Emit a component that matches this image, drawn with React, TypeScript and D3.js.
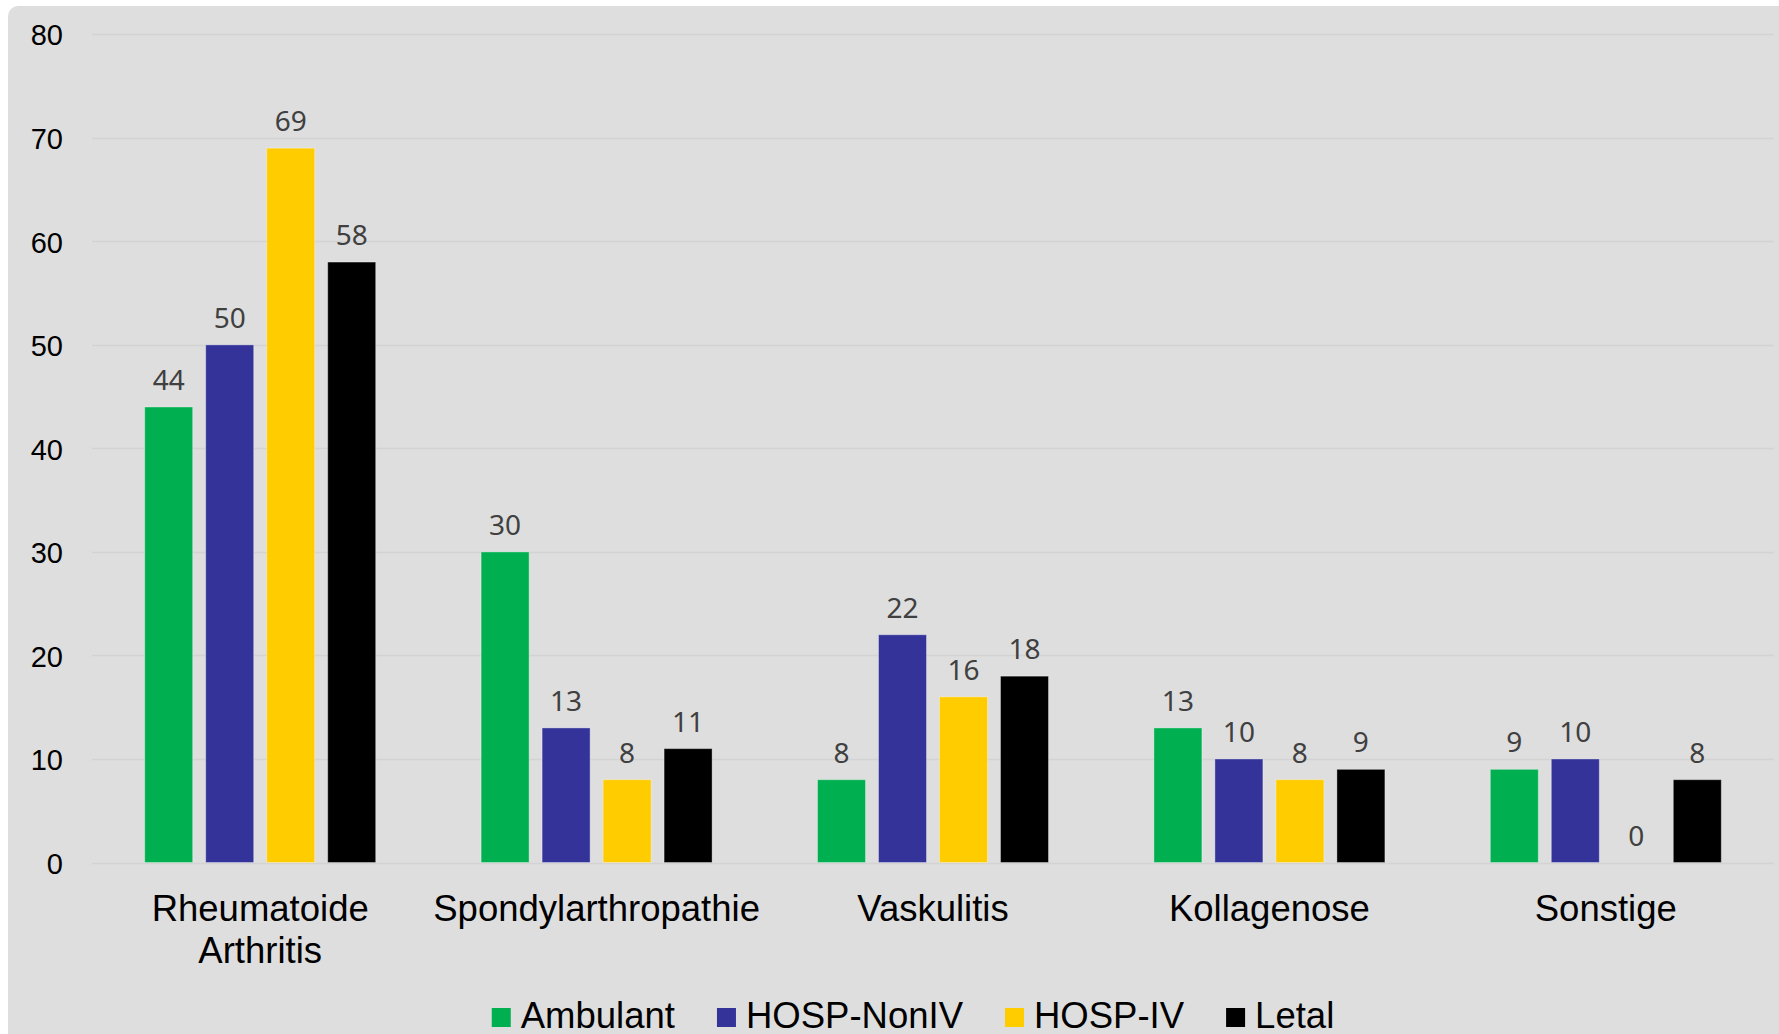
import React, { useEffect, useRef } from "react";
import * as d3 from "d3";

const categories: string[][] = [
  ["Rheumatoide", "Arthritis"],
  ["Spondylarthropathie"],
  ["Vaskulitis"],
  ["Kollagenose"],
  ["Sonstige"],
];
const seriesNames = ["Ambulant", "HOSP-NonIV", "HOSP-IV", "Letal"];
const ambulant = [44, 30, 8, 13, 9];
const hospNonIV = [50, 13, 22, 10, 10];
const hospIV = [69, 8, 16, 8, 0];
const letal = [58, 11, 18, 9, 8];
const seriesColors = ["#00B050", "#333399", "#FFCC00", "#000000"];
const yTicks = [0, 10, 20, 30, 40, 50, 60, 70, 80];

const W = 1779;
const H = 1034;

export default function App() {
  const ref = useRef<SVGSVGElement | null>(null);

  useEffect(() => {
    document.body.style.margin = "0";
    const svg = d3.select(ref.current);
    svg.selectAll("*").remove();

    const allSeries = [ambulant, hospNonIV, hospIV, letal];
    const catKeys = categories.map((c) => c.join(" "));

    const x0 = d3.scaleBand<string>().domain(catKeys).range([92, 1774]).padding(0);
    const x1 = d3
      .scaleBand<string>()
      .domain(seriesNames)
      .range([0, x0.bandwidth()])
      .paddingInner(0.213)
      .paddingOuter(0.864);
    const y = d3.scaleLinear().domain([0, 80]).range([862.5, 34.3]);

    // background
    svg
      .append("rect")
      .attr("x", 8)
      .attr("y", 6)
      .attr("width", W + 20)
      .attr("height", H + 20)
      .attr("rx", 10)
      .attr("fill", "#dedede");

    // gridlines
    svg
      .append("g")
      .selectAll("line")
      .data(yTicks)
      .join("line")
      .attr("x1", 92)
      .attr("x2", 1774)
      .attr("y1", (d) => Math.round(y(d)) + 0.5)
      .attr("y2", (d) => Math.round(y(d)) + 0.5)
      .attr("stroke", "#d3d3d3")
      .attr("stroke-width", 1.5);

    // y tick labels
    svg
      .append("g")
      .selectAll("text")
      .data(yTicks)
      .join("text")
      .attr("x", 63)
      .attr("y", (d) => y(d) + 1)
      .attr("dy", "0.35em")
      .attr("text-anchor", "end")
      .attr("font-family", "'Liberation Sans', Arial, sans-serif")
      .attr("font-size", 29)
      .attr("fill", "#000")
      .text((d) => String(d));

    // bars
    const groups = svg
      .append("g")
      .selectAll("g")
      .data(catKeys)
      .join("g")
      .attr("transform", (d) => `translate(${x0(d)},0)`);

    groups.each(function (cat, ci) {
      const g = d3.select(this);
      const rows = seriesNames.map((s, si) => ({ s, si, v: allSeries[si][ci] }));
      g.selectAll("rect")
        .data(rows)
        .join("rect")
        .attr("x", (d) => x1(d.s)!)
        .attr("y", (d) => y(d.v))
        .attr("width", x1.bandwidth())
        .attr("height", (d) => y(0) - y(d.v))
        .attr("fill", (d) => seriesColors[d.si])
        .attr("stroke", "rgba(255,255,255,0.35)")
        .attr("stroke-width", (d) => (d.v > 0 ? 1 : 0));
      g.selectAll("text.val")
        .data(rows)
        .join("text")
        .attr("class", "val")
        .attr("x", (d) => x1(d.s)! + x1.bandwidth() / 2)
        .attr("y", (d) => y(d.v) - 17)
        .attr("text-anchor", "middle")
        .attr("font-family", "'Noto Sans', sans-serif")
        .attr("font-size", 28)
        .attr("fill", "#404040")
        .text((d) => String(d.v));
    });

    // category labels
    const catG = svg.append("g");
    categories.forEach((lines, ci) => {
      const cx = x0(catKeys[ci])! + x0.bandwidth() / 2;
      const t = catG
        .append("text")
        .attr("text-anchor", "middle")
        .attr("font-family", "'Liberation Sans', Arial, sans-serif")
        .attr("font-size", 36.5)
        .attr("fill", "#000");
      lines.forEach((ln, li) => {
        t.append("tspan")
          .attr("x", cx)
          .attr("y", 921 + li * 41.5)
          .text(ln);
      });
    });

    // legend
    const leg = svg.append("g");
    const items = seriesNames.map((name, i) => {
      const g = leg.append("g");
      g.append("rect")
        .attr("x", 0)
        .attr("y", 1008)
        .attr("width", 19)
        .attr("height", 19)
        .attr("fill", seriesColors[i]);
      const t = g
        .append("text")
        .attr("x", 29)
        .attr("y", 1028)
        .attr("font-family", "'Liberation Sans', Arial, sans-serif")
        .attr("font-size", 36.5)
        .attr("fill", "#000")
        .text(name);
      const w = (t.node() as SVGTextElement).getComputedTextLength();
      return { g, w: 29 + w };
    });
    const gap = 42;
    const total = d3.sum(items, (d) => d.w) + gap * (items.length - 1);
    let cx = 913 - total / 2;
    items.forEach((it) => {
      it.g.attr("transform", `translate(${cx},0)`);
      cx += it.w + gap;
    });
  }, []);

  return (
    <svg
      ref={ref}
      width={W}
      height={H}
      style={{ position: "absolute", left: 0, top: 0, background: "#fff" }}
    />
  );
}
